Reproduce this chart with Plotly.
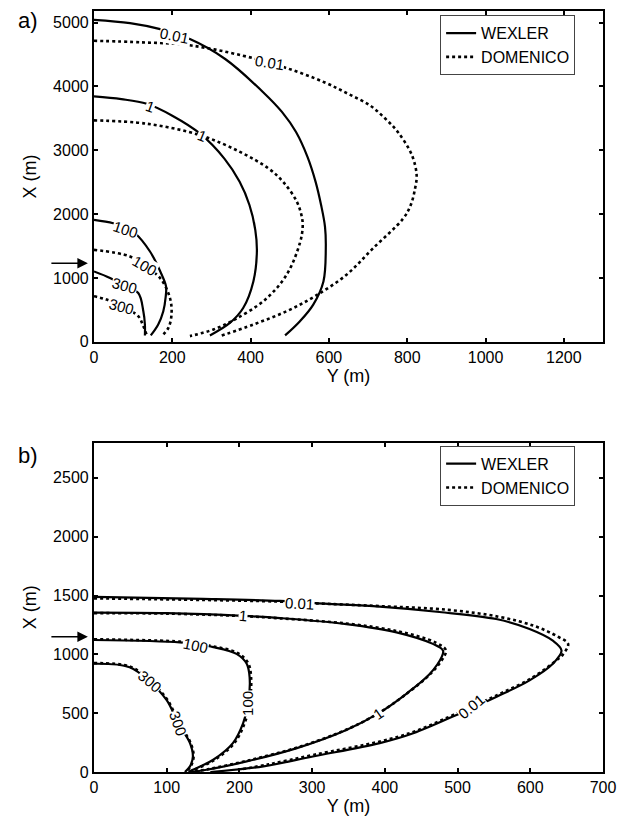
import plotly.graph_objects as go

# ---------------- panel a: iso-concentration contours (Y, X in metres) ----------------
A_WEX_001_Y = [0, 92, 169, 245, 335, 432, 480, 516, 545, 566, 580, 590, 592, 586, 560, 526, 488]
A_WEX_001_X = [5042, 4990, 4896, 4740, 4428, 3909, 3600, 3285, 2900, 2505, 2142, 1800, 1466, 946, 583, 323, 100]
A_DOM_001_Y = [0, 120, 240, 380, 486, 588, 650, 705, 743, 776, 812, 824, 820, 809, 790, 713, 645, 564, 492, 407, 322]
A_DOM_001_X = [4714, 4690, 4646, 4481, 4298, 4065, 3880, 3701, 3500, 3285, 2922, 2610, 2400, 2142, 1933, 1466, 1051, 713, 479, 271, 89]

A_WEX_1_Y = [0, 70, 135, 200, 271, 333, 372, 397, 412, 416, 407, 381, 347, 296]
A_WEX_1_X = [3842, 3800, 3727, 3540, 3259, 2869, 2505, 2142, 1750, 1414, 946, 530, 296, 100]
A_DOM_1_Y = [0, 135, 272, 373, 446, 483, 518, 531, 533, 526, 492, 437, 360, 305, 245]
A_DOM_1_X = [3467, 3415, 3233, 2973, 2713, 2505, 2195, 1950, 1800, 1550, 1050, 660, 350, 193, 89]

A_WEX_100_Y = [0, 49, 81, 105, 143, 173, 184, 183, 177, 164, 145]
A_WEX_100_X = [1908, 1856, 1790, 1700, 1414, 1051, 868, 700, 479, 271, 100]
A_DOM_100_Y = [0, 92, 128, 169, 194, 198, 190, 173]
A_DOM_100_X = [1440, 1336, 1191, 998, 686, 427, 218, 89]

A_WEX_300_Y = [0, 41, 78, 113, 126, 130, 130]
A_WEX_300_X = [1102, 998, 868, 764, 479, 271, 100]
A_DOM_300_Y = [0, 32, 71, 113, 126, 135]
A_DOM_300_X = [713, 661, 557, 401, 245, 100]

# contour labels: (text, Y, X, angle)
A_LABELS = [
    ("0.01", 205, 4800, 12),
    ("0.01", 447, 4376, 9),
    ("1", 143, 3680, 20),
    ("1", 275, 3233, 22),
    ("100", 81, 1760, 18),
    ("100", 128, 1191, 30),
    ("300", 78, 880, 15),
    ("300", 71, 560, 15),
]

# ---------------- panel b ----------------
B_WEX_001_Y = [0, 150, 256, 317, 393, 475, 553, 599, 631, 643, 631, 599, 553, 503, 439, 393, 301, 233, 160]
B_WEX_001_X = [1488, 1472, 1454, 1431, 1405, 1360, 1300, 1215, 1116, 1032, 920, 779, 638, 498, 329, 245, 132, 48, 0]
B_DOM_001_Y = [0, 150, 256, 317, 393, 487, 558, 606, 638, 652, 645, 633, 601, 555, 505, 441, 395, 303, 240, 200]
B_DOM_001_X = [1476, 1462, 1448, 1430, 1410, 1378, 1318, 1240, 1150, 1089, 1000, 935, 795, 655, 515, 345, 262, 147, 65, 20]

B_WEX_1_Y = [0, 100, 205, 256, 347, 416, 466, 480, 478, 462, 430, 391, 347, 279, 210, 155, 132]
B_WEX_1_X = [1355, 1350, 1327, 1308, 1257, 1187, 1089, 1032, 976, 835, 667, 498, 357, 203, 90, 19, 0]
B_DOM_1_Y = [0, 100, 205, 256, 347, 418, 470, 484, 481, 464, 432, 393, 349, 281, 212, 158, 135]
B_DOM_1_X = [1350, 1346, 1325, 1306, 1262, 1196, 1100, 1035, 978, 842, 675, 506, 365, 211, 98, 25, 0]

B_WEX_100_Y = [0, 118, 140, 164, 196, 210, 214, 212, 205, 191, 164, 136, 130]
B_WEX_100_X = [1122, 1102, 1085, 1062, 1004, 920, 807, 582, 413, 245, 104, 19, 0]
B_DOM_100_Y = [0, 118, 140, 164, 198, 212, 216, 214, 207, 193, 166, 138, 132]
B_DOM_100_X = [1128, 1108, 1090, 1068, 1010, 925, 810, 582, 413, 245, 104, 19, 0]

B_WEX_300_Y = [0, 49, 77, 100, 116, 132, 136, 132, 125]
B_WEX_300_X = [920, 891, 765, 610, 413, 245, 132, 48, 0]
B_DOM_300_Y = [0, 50, 78, 101, 117, 133, 137, 133, 126]
B_DOM_300_X = [925, 895, 770, 614, 415, 245, 132, 48, 0]

B_LABELS = [
    ("0.01", 283, 1428, 3),
    ("1", 205, 1327, 5),
    ("100", 139, 1075, 12),
    ("300", 77, 765, 40),
    ("300", 116, 415, 70),
    ("100", 211, 582, -90),
    ("1", 391, 498, -35),
    ("0.01", 519, 554, -40),
]

# source position marker on the X axis
A_SOURCE_X = 1230
B_SOURCE_X = 1150

X_TICKS_A = [0, 200, 400, 600, 800, 1000, 1200]
Y_TICKS_A = [0, 1000, 2000, 3000, 4000, 5000]
X_TICKS_B = [0, 100, 200, 300, 400, 500, 600, 700]
Y_TICKS_B = [0, 500, 1000, 1500, 2000, 2500]

FONT = "Liberation Sans, Arial, sans-serif"
LW = 2.2

fig = go.Figure()


def curve(yv, xv, dash, xa, ya, name=None, legend="legend"):
    fig.add_trace(go.Scatter(
        x=yv, y=xv, mode="lines", xaxis=xa, yaxis=ya,
        line=dict(color="black", width=LW if dash == "solid" else 2.6, dash=dash,
                  shape="spline", smoothing=1.0),
        name=name or "", showlegend=name is not None, legend=legend,
        hoverinfo="skip", cliponaxis=True,
    ))


# panel a
curve(A_WEX_001_Y, A_WEX_001_X, "solid", "x", "y", "WEXLER", "legend")
curve(A_WEX_1_Y, A_WEX_1_X, "solid", "x", "y")
curve(A_WEX_100_Y, A_WEX_100_X, "solid", "x", "y")
curve(A_WEX_300_Y, A_WEX_300_X, "solid", "x", "y")
curve(A_DOM_001_Y, A_DOM_001_X, "dot", "x", "y", "DOMENICO", "legend")
curve(A_DOM_1_Y, A_DOM_1_X, "dot", "x", "y")
curve(A_DOM_100_Y, A_DOM_100_X, "dot", "x", "y")
curve(A_DOM_300_Y, A_DOM_300_X, "dot", "x", "y")

# panel b
curve(B_WEX_001_Y, B_WEX_001_X, "solid", "x2", "y2", "WEXLER", "legend2")
curve(B_WEX_1_Y, B_WEX_1_X, "solid", "x2", "y2")
curve(B_WEX_100_Y, B_WEX_100_X, "solid", "x2", "y2")
curve(B_WEX_300_Y, B_WEX_300_X, "solid", "x2", "y2")
curve(B_DOM_001_Y, B_DOM_001_X, "dot", "x2", "y2", "DOMENICO", "legend2")
curve(B_DOM_1_Y, B_DOM_1_X, "dot", "x2", "y2")
curve(B_DOM_100_Y, B_DOM_100_X, "dot", "x2", "y2")
curve(B_DOM_300_Y, B_DOM_300_X, "dot", "x2", "y2")

annotations = []
for txt, yv, xv, ang in A_LABELS:
    annotations.append(dict(text=txt, x=yv, y=xv, xref="x", yref="y", showarrow=False,
                            textangle=ang, bgcolor="white", borderpad=0,
                            font=dict(family=FONT, size=15, color="black")))
for txt, yv, xv, ang in B_LABELS:
    annotations.append(dict(text=txt, x=yv, y=xv, xref="x2", yref="y2", showarrow=False,
                            textangle=ang, bgcolor="white", borderpad=0,
                            font=dict(family=FONT, size=15, color="black")))

# arrows marking the source location
annotations.append(dict(x=-0.012, y=A_SOURCE_X, xref="paper", yref="y", text="",
                        showarrow=True, ax=-38, ay=0, arrowhead=2, arrowsize=1.4,
                        arrowwidth=1.5, arrowcolor="black"))
annotations.append(dict(x=-0.012, y=B_SOURCE_X, xref="paper", yref="y2", text="",
                        showarrow=True, ax=-38, ay=0, arrowhead=2, arrowsize=1.4,
                        arrowwidth=1.5, arrowcolor="black"))

# panel tags
annotations.append(dict(text="a)", x=-0.13, y=0.987, xref="paper", yref="paper",
                        xanchor="center", yanchor="middle",
                        showarrow=False, font=dict(family=FONT, size=22, color="black")))
annotations.append(dict(text="b)", x=-0.13, y=0.4155, xref="paper", yref="paper",
                        xanchor="center", yanchor="middle",
                        showarrow=False, font=dict(family=FONT, size=22, color="black")))

axis_common = dict(showline=True, linecolor="black", linewidth=2.2, mirror="allticks",
                   ticks="inside", ticklen=4, tickwidth=2, tickcolor="black",
                   showgrid=False, zeroline=False,
                   tickfont=dict(family=FONT, size=16, color="black"))
title_font = dict(family=FONT, size=18, color="black")

fig.update_layout(
    width=627, height=829,
    margin=dict(l=94, r=24, t=9, b=57),
    plot_bgcolor="white", paper_bgcolor="white",
    annotations=annotations,
    xaxis=dict(domain=[0, 1], range=[0, 1300], tickvals=X_TICKS_A, anchor="y",
               title=dict(text="Y (m)", font=title_font, standoff=4), **axis_common),
    yaxis=dict(domain=[0.5653, 1], range=[0, 5180], tickvals=Y_TICKS_A, anchor="x",
               title=dict(text="X (m)", font=title_font, standoff=12), **axis_common),
    xaxis2=dict(domain=[0, 1], range=[0, 700], tickvals=X_TICKS_B, anchor="y2",
                title=dict(text="Y (m)", font=title_font, standoff=4), **axis_common),
    yaxis2=dict(domain=[0, 0.4329], range=[0, 2800], tickvals=Y_TICKS_B, anchor="x2",
                title=dict(text="X (m)", font=title_font, standoff=12), **axis_common),
    legend=dict(x=0.68, y=0.9945, xanchor="left", yanchor="top", bgcolor="white",
                bordercolor="#444", borderwidth=1, itemwidth=30, tracegroupgap=0,
                font=dict(family=FONT, size=16, color="black")),
    legend2=dict(x=0.68, y=0.4287, xanchor="left", yanchor="top", bgcolor="white",
                 bordercolor="#444", borderwidth=1, itemwidth=30, tracegroupgap=0,
                 font=dict(family=FONT, size=16, color="black")),
    showlegend=True,
)

fig.write_html("out.html")
